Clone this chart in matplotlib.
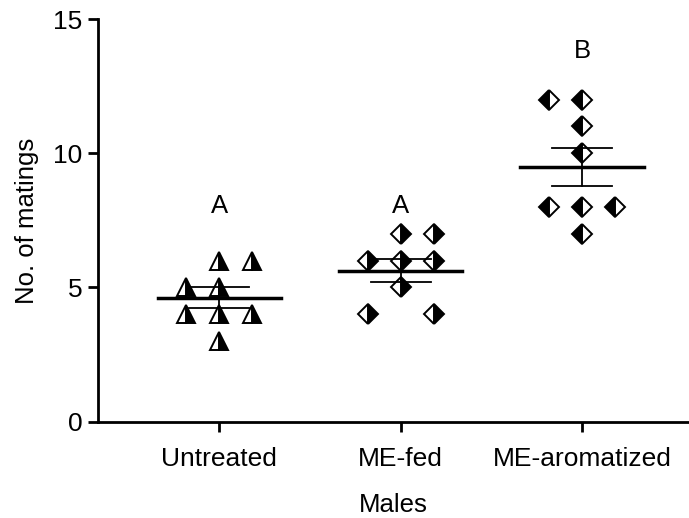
import numpy as np
import matplotlib.pyplot as plt

plt.rcParams['font.family'] = ['Liberation Sans', 'DejaVu Sans']

# Data
groups = ['Untreated', 'ME-fed', 'ME-aromatized']
untreated = [6, 6, 5, 5, 4, 4, 4, 3]
untreated_dx = [0, 1, -1, 0, -1, 0, 1, 0]
me_fed = [7, 7, 6, 6, 6, 5, 4, 4]
me_fed_dx = [0, 1, -1, 0, 1, 0, -1, 1]
me_arom = [12, 12, 11, 10, 8, 8, 8, 7]
me_arom_dx = [-1, 0, 0, 0, -1, 0, 1, 0]
letters = ['A', 'A', 'B']
letter_y = [8.05, 8.05, 13.8]

series = [untreated, me_fed, me_arom]
offsets = [untreated_dx, me_fed_dx, me_arom_dx]
markers = [('^', 'right', 12.5), ('D', 'right', 10), ('D', 'left', 10)]

fig = plt.figure(figsize=(6.89, 5.18), dpi=100)
ax = fig.add_axes([0.142, 0.186, 0.858, 0.777])

step = 0.182
for i, (vals, dx, (m, fs, ms)) in enumerate(zip(series, offsets, markers)):
    vals = np.array(vals, dtype=float)
    x = i + np.array(dx) * step
    ax.plot(x, vals, linestyle='none', marker=m, fillstyle=fs, markersize=ms,
            markerfacecolor='black', markerfacecoloralt='white',
            markeredgecolor='black', markeredgewidth=1.4, zorder=3)
    # mean line with SEM error bars
    mean = vals.mean()
    sem = vals.std(ddof=1) / np.sqrt(len(vals))
    ax.plot([i - 0.34, i + 0.34], [mean, mean], color='black', lw=2.5, zorder=4)
    ax.plot([i - 0.165, i + 0.165], [mean + sem, mean + sem], color='black', lw=1.3, zorder=4)
    ax.plot([i - 0.165, i + 0.165], [mean - sem, mean - sem], color='black', lw=1.3, zorder=4)
    ax.plot([i, i], [mean - sem, mean + sem], color='black', lw=1.3, zorder=4)
    ax.text(i, letter_y[i], letters[i], ha='center', va='center', fontsize=18.5)

ax.set_xlim(-0.669, 2.59)
ax.set_ylim(0, 15)
ax.set_yticks([0, 5, 10, 15])
ax.set_xticks(range(len(groups)))
ax.set_xticklabels(groups)
ax.tick_params(axis='both', width=2, length=7, labelsize=19, direction='out')
ax.tick_params(axis='y', pad=4)
ax.tick_params(axis='x', pad=11)
for s in ['top', 'right']:
    ax.spines[s].set_visible(False)
for s in ['left', 'bottom']:
    ax.spines[s].set_linewidth(2)
ax.set_ylabel('No. of matings', fontsize=18.5, labelpad=10)
ax.set_xlabel('Males', fontsize=18.5, labelpad=16)

fig.savefig('out.png', dpi=100)
